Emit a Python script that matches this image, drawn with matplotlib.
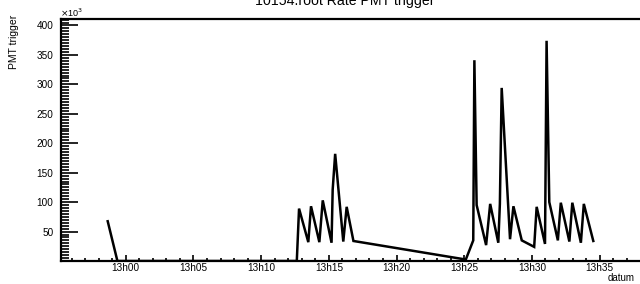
import pandas as pd
import matplotlib
matplotlib.use("Agg")
import matplotlib.pyplot as plt
import matplotlib.dates as mdates
from matplotlib.ticker import MultipleLocator, FuncFormatter

plt.rcParams["font.family"] = ["Liberation Sans", "DejaVu Sans"]

# PMT trigger rate (rate in units of 10^3)
times = ["12:58:40", "12:59:23", "13:12:38", "13:12:48", "13:13:29", "13:13:41",
         "13:14:18", "13:14:33", "13:15:12", "13:15:17", "13:15:28", "13:16:04",
         "13:16:19", "13:16:49", "13:25:07", "13:25:40", "13:25:45", "13:25:55",
         "13:26:37", "13:26:55", "13:27:31", "13:27:38", "13:27:46", "13:28:23",
         "13:28:38", "13:29:15", "13:30:10", "13:30:21", "13:30:58", "13:31:05",
         "13:31:17", "13:31:55", "13:32:08", "13:32:46", "13:32:59", "13:33:37",
         "13:33:50", "13:34:32"]
rate_k = [67.5, 0, 0, 89, 32, 93, 32, 103, 31, 121, 182, 33,
          92, 34, 2.5, 35, 341, 95, 27, 97, 31, 97, 294, 37,
          93, 35, 24, 92, 29, 374, 100, 35, 99, 33, 99, 31,
          97, 34]

df = pd.DataFrame({"datum": pd.to_datetime("2000-01-01 " + pd.Series(times)),
                   "rate": [r * 1000 for r in rate_k]})

fig = plt.figure(figsize=(6.4, 2.84), dpi=100)
ax = fig.add_axes([61 / 640, 1 - 261 / 284, 1 - 61 / 640, (261 - 19) / 284])

ax.plot(df["datum"], df["rate"], color="black", lw=1.8, solid_joinstyle="miter")

ax.set_xlim(pd.Timestamp("2000-01-01 12:55:13"), pd.Timestamp("2000-01-01 13:37:59"))
ax.set_ylim(0, 411000)

ax.xaxis.set_major_locator(mdates.MinuteLocator(byminute=range(0, 60, 5)))
ax.xaxis.set_minor_locator(mdates.MinuteLocator())
ax.xaxis.set_major_formatter(mdates.DateFormatter("%Hh%M"))

ax.yaxis.set_major_locator(MultipleLocator(50000))
ax.yaxis.set_minor_locator(MultipleLocator(5000))
ax.yaxis.set_major_formatter(FuncFormatter(lambda v, p: "" if v == 0 else "%d" % (v / 1000)))

ax.tick_params(axis="y", which="major", direction="in", length=12.2, width=1.2,
               labelsize=7.2, pad=5.5, colors="black")
ax.tick_params(axis="y", which="minor", direction="in", length=6, width=1.2)
ax.tick_params(axis="x", which="major", direction="in", length=4.5, width=1.2,
               labelsize=7.2, pad=1.5)
ax.tick_params(axis="x", which="minor", direction="in", length=2.2, width=1.2)

for s in ["left", "bottom", "top"]:
    ax.spines[s].set_linewidth(1.6)
ax.spines["right"].set_visible(False)

# title sits partly above the canvas, as in the reference
fig.text(345 / 640, 1 - 4.7 / 284, "10154.root Rate PMT trigger", ha="center",
         va="baseline", fontsize=10.2)
fig.text(14 / 640, 1 - 15 / 284, "PMT trigger", rotation=90, ha="center",
         va="top", fontsize=7.5)
fig.text(60 / 640, 1 - 17 / 284, r"$\times$10$^{3}$", ha="left", va="baseline",
         fontsize=6.5)
fig.text(635 / 640, 1 - 281 / 284, "datum", ha="right", va="baseline", fontsize=7)

fig.savefig("out.png", dpi=100)
